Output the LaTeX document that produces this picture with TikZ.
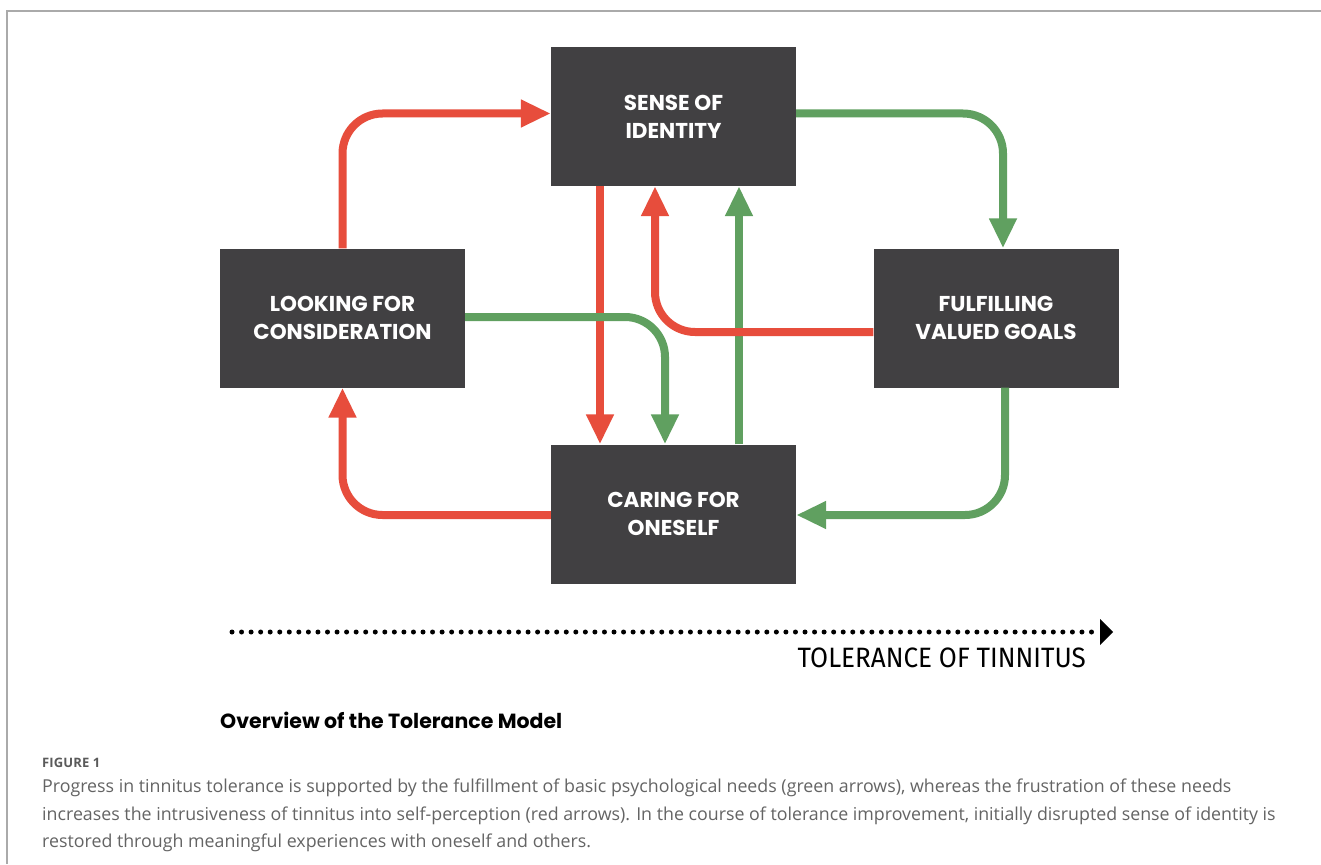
\documentclass[tikz,border=0pt]{standalone}
\usepackage{fontspec}
\setmainfont{Poppins}
\newfontfamily\capfont{Open Sans}
\newfontfamily\figfont[LetterSpace=1]{Open Sans}
\newfontfamily\thinfont[FakeStretch=0.93]{Fira Sans}
\usetikzlibrary{arrows.meta}
\definecolor{boxgray}{RGB}{65,64,66}
\definecolor{ared}{RGB}{231,77,60}
\definecolor{agreen}{RGB}{96,160,96}
\definecolor{framegray}{RGB}{170,170,170}
\definecolor{captext}{RGB}{100,100,100}
\definecolor{figtext}{RGB}{90,90,90}
\tikzset{
  box/.style={fill=boxgray, draw=none, minimum width=245pt, minimum height=139pt,
    text=white, align=center, font=\fontsize{21.5}{28}\selectfont\bfseries, inner sep=0pt},
  conn/.style={line width=8pt, rounded corners=40pt,
    -{Triangle[width=26pt,length=30pt]}},
  rarrow/.style={conn, draw=ared},
  garrow/.style={conn, draw=agreen},
}
\begin{document}
\begin{tikzpicture}[x=1pt,y=-1pt]
\useasboundingbox (0,0) rectangle (1321,864);
\fill[white] (0,0) rectangle (1321,864);
\draw[framegray, line width=1.5pt] (7,864) -- (7,11) -- (1321,11);

\node[box] (id) at (673.5,116.5) {SENSE OF\\IDENTITY};
\node[box] (cons) at (342.5,318) {LOOKING FOR\\CONSIDERATION};
\node[box] (goals) at (996,318) {FULFILLING\\VALUED GOALS};
\node[box] (care) at (673.5,514) {CARING FOR\\ONESELF};

\draw[rarrow] (cons.north) |- ([yshift=3pt]id.west);
\draw[garrow] ([yshift=3pt]id.east) -| ([xshift=7pt]goals.north);
\draw[rarrow] ([xshift=-73.5pt]id.south) -- ([xshift=-73.5pt]care.north);
\draw[garrow] ([xshift=65.5pt]care.north) -- ([xshift=65.5pt]id.south);
\draw[rarrow] ([yshift=-14pt]goals.west) -| ([xshift=-18.5pt]id.south);
\draw[garrow] ([yshift=1pt]cons.east) -| ([xshift=-8.5pt]care.north);
\draw[garrow] ([xshift=9pt]goals.south) |- ([yshift=-1pt]care.east);
\draw[rarrow] ([yshift=-1pt]care.west) -| (cons.south);

\coordinate (ts) at (232,632);
\coordinate (te) at (1113,632);
\draw[line width=5pt, line cap=round, dash pattern=on 0pt off 9.55pt] (ts) -- (1100,632);
\fill[black] (te) -- (1100,619) -- (1100,645) -- cycle;
\node[anchor=base east, font=\thinfont\fontsize{28}{32}\selectfont, inner sep=0pt] (tol) at (1086,667) {TOLERANCE OF TINNITUS};

\node[anchor=base west, font=\fontsize{20.5}{24}\selectfont\bfseries, inner sep=0pt] (title) at (220,728) {Overview of the Tolerance Model};
\node[anchor=base west, font=\figfont\fontsize{13}{15}\selectfont\bfseries, text=figtext, inner sep=0pt] (fig) at (42,767) {FIGURE 1};
\node[anchor=north west, align=left, font=\capfont\fontsize{17.8}{27.5}\selectfont, text=captext, inner sep=0pt] (cap) at (42,779)
{Progress in tinnitus tolerance is supported by the fulfillment of basic psychological needs (green arrows), whereas the frustration of these needs\\
increases the intrusiveness of tinnitus into self-perception (red arrows). In the course of tolerance improvement, initially disrupted sense of identity is\\
restored through meaningful experiences with oneself and others.};
\end{tikzpicture}
\end{document}
